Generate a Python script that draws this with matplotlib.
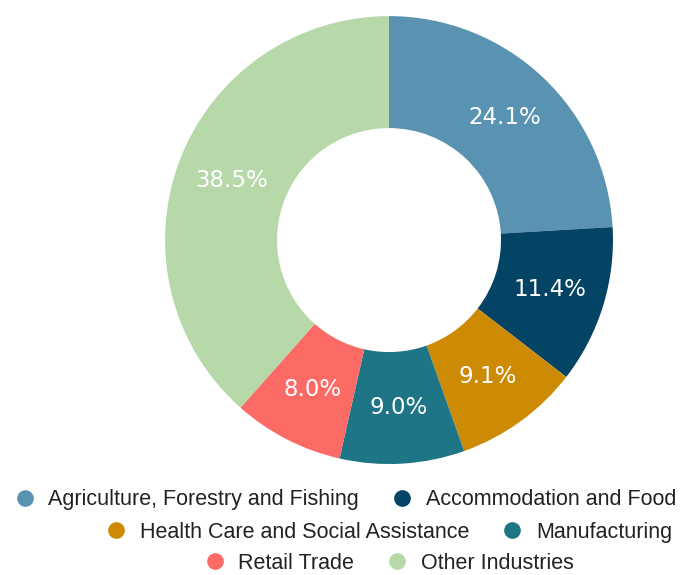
import matplotlib.pyplot as plt
from matplotlib.lines import Line2D

# industry shares (%)
industries = ["Agriculture, Forestry and Fishing", "Accommodation and Food",
              "Health Care and Social Assistance", "Manufacturing",
              "Retail Trade", "Other Industries"]
shares = [24.1, 11.4, 9.1, 9.0, 8.0, 38.5]
colors = ["#5A93B2", "#034363", "#CC8A05", "#1E7585", "#FB6A65", "#B7D8A8"]

fig = plt.figure(figsize=(6.82, 5.75), dpi=100)
ax = fig.add_axes([0.2419, 0.193, 0.657, 0.779])

wedges, texts, autotexts = ax.pie(
    shares, colors=colors, startangle=90, counterclock=False,
    radius=1.0, pctdistance=0.75, autopct="%.1f%%",
    wedgeprops=dict(width=0.5, linewidth=0),
    textprops=dict(color="white", fontsize=16.5, family="DejaVu Sans"))
ax.set_xlim(-1, 1)
ax.set_ylim(-1, 1)
ax.set_aspect("equal")
ax.axis("off")

# legend rows, centered like a wrapped html legend
rows = [([0, 1], 0.506, 0.131), ([2, 3], 0.570, 0.074), ([4, 5], 0.570, 0.020)]
for idx, xc, yc in rows:
    handles = [Line2D([], [], marker="o", linestyle="", markersize=12,
                      markerfacecolor=colors[i], markeredgewidth=0)
               for i in idx]
    leg = fig.legend(handles, [industries[i] for i in idx], loc="center",
                     bbox_to_anchor=(xc, yc), ncol=2, frameon=False,
                     handlelength=1.0, handletextpad=0.6, columnspacing=1.5,
                     borderpad=0, prop=dict(family="Liberation Sans", size=15.5))
    for t in leg.get_texts():
        t.set_color("#222222")

fig.savefig("out.png", dpi=100)
